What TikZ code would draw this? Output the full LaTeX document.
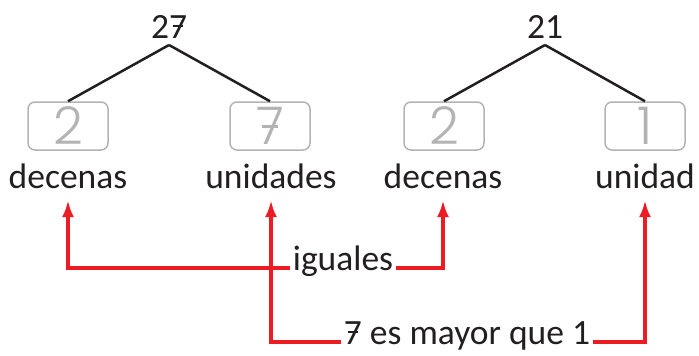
\documentclass[tikz,border=0pt]{standalone}
\usepackage{fontspec}
\setmainfont{Carlito}
\newfontfamily\fino{Poppins Light}
\usetikzlibrary{arrows.meta}
\definecolor{tinta}{HTML}{231F20}
\definecolor{rojo}{HTML}{ED1C24}
\definecolor{gris}{HTML}{B3B3B3}
\newcommand{\sietec}{\ooalign{7\cr\hidewidth\rule[.31em]{.3em}{.065em}\hidewidth\cr}}

\begin{document}
\begin{tikzpicture}[x=1pt, y=-1pt, every node/.style={font=\fontsize{35.5}{40}\selectfont, text=tinta, inner sep=0pt}, >={Latex[length=17pt, width=12pt]},
	caja/.style={draw=gris, line width=1.5pt, rounded corners=7pt, minimum width=80pt, minimum height=48pt, text=gris, font=\fino\fontsize{52}{52}\selectfont},
	rotulo/.style={anchor=base, inner ysep=12pt, text depth=0pt},
	rama/.style={tinta, line width=2.5pt},
	flecha/.style={->, rojo, line width=3.3pt}]
	\useasboundingbox (0,0) rectangle (699,356);
	\node[anchor=base] (n27) at (169,38) {2\sietec};
	\node[anchor=base] (n21) at (545,38) {21};
	\coordinate (v27) at (169,45);
	\coordinate (v21) at (545,45);
	\node[caja] (c2a) at (68,126) {2};
	\node[caja] (c7) at (270,126) {\sietec};
	\node[caja] (c2b) at (444,126) {2};
	\node[caja] (c1) at (645,126) {1};
	\draw[rama] (v27) -- (c2a.north);
	\draw[rama] (v27) -- (c7.north);
	\draw[rama] (v21) -- (c2b.north);
	\draw[rama] (v21) -- (c1.north);
	\node[rotulo] (dec1) at (68,188) {decenas};
	\node[rotulo] (uni1) at (271,188) {unidades};
	\node[rotulo] (dec2) at (443,188) {decenas};
	\node[rotulo] (uni2) at (645,188) {unidad};
	\node[anchor=mid, inner xsep=3pt] (ig) at (343,268) {iguales};
	\node[anchor=mid, inner xsep=3pt] (my) at (467,342) {\sietec{} es mayor que 1};
	\draw[flecha] (ig.mid west) -| (dec1.south);
	\draw[flecha] (ig.mid east) -| (dec2.south);
	\draw[flecha] (my.mid west) -| (uni1.south);
	\draw[flecha] (my.mid east) -| (uni2.south);
\end{tikzpicture}
\end{document}
